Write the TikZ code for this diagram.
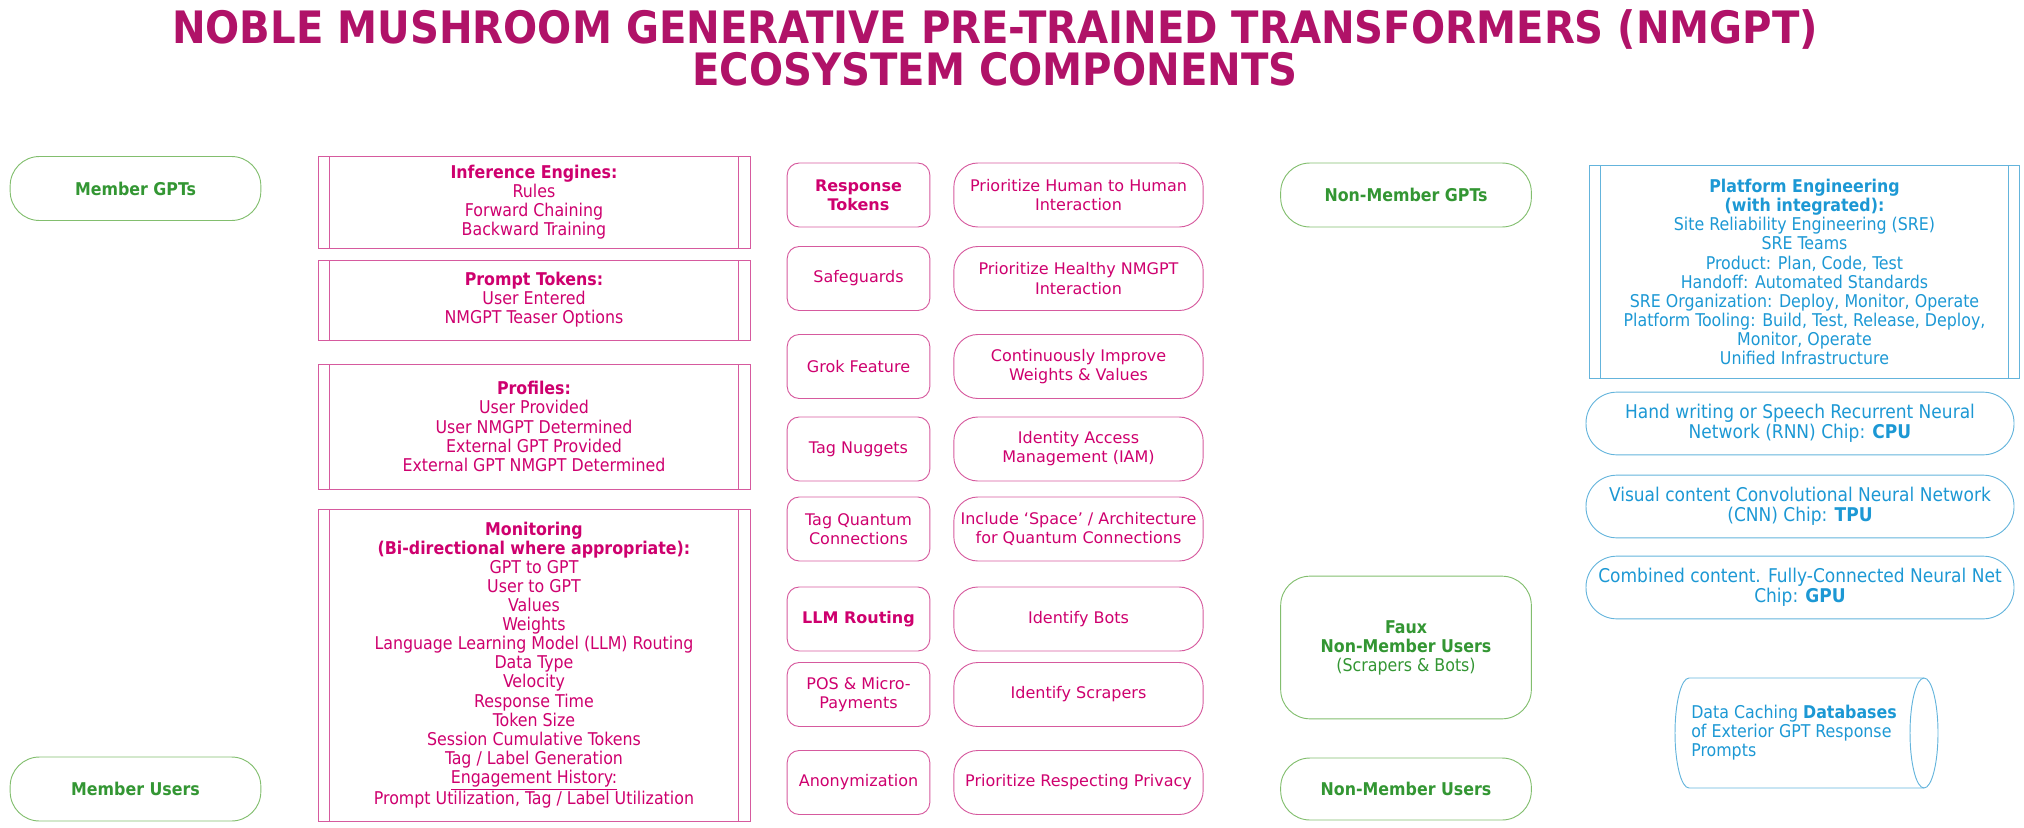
\documentclass[tikz,border=0pt]{standalone}
\usepackage{fontspec}
\setmainfont{DejaVu Sans}
\newfontfamily\tahoma{DejaVu Sans Condensed}[BoldFont={DejaVu Sans Condensed Bold}]
\usepackage{tikz}
\usetikzlibrary{shapes.geometric}
\definecolor{titlecolor}{RGB}{176,18,104}
\definecolor{pinktext}{RGB}{206,0,110}
\definecolor{pinkline}{RGB}{214,90,158}
\definecolor{grntext}{RGB}{51,150,51}
\definecolor{grnline}{RGB}{130,190,110}
\definecolor{bluetext}{RGB}{28,152,212}
\definecolor{blueline}{RGB}{100,180,220}
\newcommand{\txt}{\fontsize{12}{14.3}\selectfont}
\newcommand{\tah}{\tahoma\fontsize{13.2}{14.3}\selectfont}

\begin{document}
\begin{tikzpicture}[
    x=0.75pt, y=-0.75pt,
    title/.style={text=titlecolor, font=\tahoma\bfseries\fontsize{33.5}{31}\selectfont, align=center},
    member/.style={draw=grnline, line width=0.7pt, rounded corners=22pt, text=grntext, font=\tah\bfseries, align=center, minimum width=188pt, minimum height=48pt},
    bars/.style={path picture={\draw[#1, line width=0.6pt]
        ([xshift=8.6pt]path picture bounding box.north west) -- ([xshift=8.6pt]path picture bounding box.south west)
        ([xshift=-8.6pt]path picture bounding box.north east) -- ([xshift=-8.6pt]path picture bounding box.south east);}},
    engine/.style={draw=pinkline, line width=0.7pt, bars=pinkline, text=pinktext, font=\tah, align=center, minimum width=324pt},
    token/.style={draw=pinkline, line width=0.7pt, rounded corners=9pt, text=pinktext, font=\txt, align=center, minimum width=107pt, minimum height=48pt, inner xsep=1pt},
    policy/.style={token, rounded corners=18pt, minimum width=187pt},
    platform/.style={draw=blueline, line width=0.7pt, bars=blueline, text=bluetext, font=\tah, align=center, minimum width=323pt, minimum height=160pt},
    chip/.style={draw=blueline, line width=0.7pt, rounded corners=23pt, text=bluetext, font=\tahoma\fontsize{14.2}{15.3}\selectfont, align=center, minimum width=321pt, minimum height=47pt, inner xsep=1pt},
    dbtext/.style={text=bluetext, font=\tah, align=left, inner sep=0pt, anchor=west}
]
    \useasboundingbox (0,0) rectangle (2024,828);

    % Title
    \node[title] (head) at (995,48) {NOBLE MUSHROOM GENERATIVE PRE-TRAINED TRANSFORMERS (NMGPT)\\ECOSYSTEM COMPONENTS};

    % Members
    \node[member] (mgpt) at (135.5,188.5) {Member GPTs};
    \node[member] (musers) at (135.5,789) {Member Users};

    % Engines, tokens, profiles, monitoring
    \node[engine, minimum height=69pt] (engines) at (534,202) {\textbf{Inference Engines:}\\Rules\\Forward Chaining\\Backward Training};
    \node[engine, minimum height=60pt] (prompts) at (534,300) {\textbf{Prompt Tokens:}\\User Entered\\NMGPT Teaser Options};
    \node[engine, minimum height=93.75pt] (profiles) at (534,426.5) {\textbf{Profiles:}\\User Provided\\User NMGPT Determined\\External GPT Provided\\External GPT NMGPT Determined};
    \node[engine, minimum height=234pt] (monitor) at (534,665) {\textbf{Monitoring}\\\textbf{(Bi-directional where appropriate):}\\GPT to GPT\\User to GPT\\Values\\Weights\\Language Learning Model (LLM) Routing\\Data Type\\Velocity\\Response Time\\Token Size\\Session Cumulative Tokens\\Tag / Label Generation\\\underline{Engagement History:}\\Prompt Utilization, Tag / Label Utilization};

    % Feature column
    \node[token] (resp) at (858.5,195) {\textbf{Response}\\\textbf{Tokens}};
    \node[token] (safe) at (858.5,278.5) {Safeguards};
    \node[token] (grok) at (858.5,366.5) {Grok Feature};
    \node[token] (nugget) at (858.5,449) {Tag Nuggets};
    \node[token] (quantum) at (858.5,529) {Tag Quantum\\Connections};
    \node[token] (llm) at (858.5,619) {\textbf{LLM Routing}};
    \node[token] (pos) at (858.5,694.5) {POS \& Micro-\\Payments};
    \node[token] (anon) at (858.5,782.5) {Anonymization};

    % Policy column
    \node[policy] (human) at (1078.5,195) {Prioritize Human to Human\\Interaction};
    \node[policy] (healthy) at (1078.5,278.5) {Prioritize Healthy NMGPT\\Interaction};
    \node[policy] (improve) at (1078.5,366.5) {Continuously Improve\\Weights \& Values};
    \node[policy] (iam) at (1078.5,449) {Identity Access\\Management (IAM)};
    \node[policy] (space) at (1078.5,529) {Include ‘Space’ / Architecture\\for Quantum Connections};
    \node[policy] (bots) at (1078.5,619) {Identify Bots};
    \node[policy] (scrapers) at (1078.5,694.5) {Identify Scrapers};
    \node[policy] (privacy) at (1078.5,782.5) {Prioritize Respecting Privacy};

    % Non-members
    \node[member] (nmgpt) at (1406,195) {Non-Member GPTs};
    \node[member, minimum height=107pt] (faux) at (1406,647.5) {Faux\\Non-Member Users\\{\mdseries(Scrapers \& Bots)}};
    \node[member, minimum height=46.5pt] (nmusers) at (1406,789) {Non-Member Users};

    % Platform and chips
    \node[platform] (plat) at (1804.5,272) {\textbf{Platform Engineering}\\\textbf{(with integrated):}\\Site Reliability Engineering (SRE)\\SRE Teams\\Product: Plan, Code, Test\\Handoff: Automated Standards\\SRE Organization: Deploy, Monitor, Operate\\Platform Tooling: Build, Test, Release, Deploy,\\Monitor, Operate\\Unified Infrastructure};
    \node[chip] (cpu) at (1800,423.5) {Hand writing or Speech Recurrent Neural\\Network (RNN) Chip: \textbf{CPU}};
    \node[chip] (tpu) at (1800,506.5) {Visual content Convolutional Neural Network\\(CNN) Chip: \textbf{TPU}};
    \node[chip] (gpu) at (1800,587.5) {Combined content. Fully-Connected Neural Net\\Chip: \textbf{GPU}};

    % Cache database (cylinder on its side)
    \draw[blueline, line width=0.7pt] (1689,678) -- (1924,678) arc (-90:90:14 and 55) -- (1689,788) arc (90:270:14 and 55);
    \draw[blueline, line width=0.7pt] (1924,678) arc (-90:-270:14 and 55);
    \node[dbtext] (cache) at (1691,733) {Data Caching \textbf{Databases}\\of Exterior GPT Response\\Prompts};
\end{tikzpicture}
\end{document}
